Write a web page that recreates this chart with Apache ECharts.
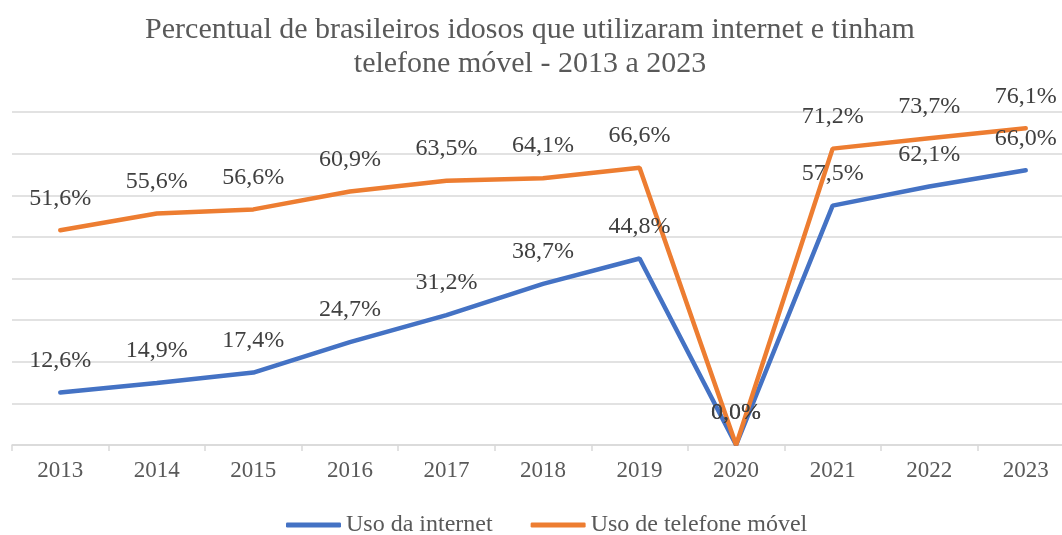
<!DOCTYPE html>
<html>
<head>
<meta charset="utf-8">
<script src="https://cdn.jsdelivr.net/npm/echarts@6/dist/echarts.min.js"></script>
<style>html,body{margin:0;padding:0;background:#fff;overflow:hidden;}#c{width:1074px;height:535px;}</style>
</head>
<body>
<div id="c"></div>
<script>
const categories = ['2013','2014','2015','2016','2017','2018','2019','2020','2021','2022','2023'];
const internet = [12.6, 14.9, 17.4, 24.7, 31.2, 38.7, 44.8, 0.0, 57.5, 62.1, 66.0];
const telefone = [51.6, 55.6, 56.6, 60.9, 63.5, 64.1, 66.6, 0.0, 71.2, 73.7, 76.1];
const seriesNames = ['Uso da internet', 'Uso de telefone móvel'];
const titleText = 'Percentual de brasileiros idosos que utilizaram internet e tinham\ntelefone móvel - 2013 a 2023';

const serif = '"Liberation Serif", "DejaVu Serif", serif';
const fmt = p => p.value.toFixed(1).replace('.', ',') + '%';
const labelCfg = {show: true, position: 'top', distance: 20, formatter: fmt,
  color: '#404040', fontSize: 24, fontFamily: serif};

const chart = echarts.init(document.getElementById('c'));
chart.setOption({
  animation: false,
  backgroundColor: '#ffffff',
  title: {
    text: titleText, left: 525, top: 8, textAlign: 'center',
    textStyle: {fontFamily: serif, fontSize: 30, fontWeight: 'normal', color: '#595959', lineHeight: 34}
  },
  legend: {
    top: 508, left: 281, itemWidth: 55, itemHeight: 5, itemGap: 38, icon: 'roundRect',
    textStyle: {fontFamily: serif, fontSize: 24, color: '#595959'},
    data: seriesNames
  },
  grid: {left: 12, right: 0, top: 112, bottom: 90},
  xAxis: {
    type: 'category', data: categories, boundaryGap: true,
    axisLine: {lineStyle: {color: '#d9d9d9', width: 1.5}},
    axisTick: {show: true, length: 6, interval: 0, lineStyle: {color: '#d9d9d9', width: 1.5}},
    axisLabel: {color: '#595959', fontSize: 23, fontFamily: serif, margin: 14}
  },
  yAxis: {
    type: 'value', min: 0, max: 80, interval: 10,
    axisLabel: {show: false}, axisLine: {show: false}, axisTick: {show: false},
    splitLine: {lineStyle: {color: '#d9d9d9', width: 1.5}}
  },
  series: [
    {name: seriesNames[0], type: 'line', data: internet, symbol: 'circle', symbolSize: 0,
     itemStyle: {color: '#4472C4'}, lineStyle: {color: '#4472C4', width: 4.5, cap: 'round'}, label: labelCfg},
    {name: seriesNames[1], type: 'line', data: telefone, symbol: 'circle', symbolSize: 0,
     itemStyle: {color: '#ED7D31'}, lineStyle: {color: '#ED7D31', width: 4.5, cap: 'round'}, label: labelCfg}
  ]
});
</script>
</body>
</html>
